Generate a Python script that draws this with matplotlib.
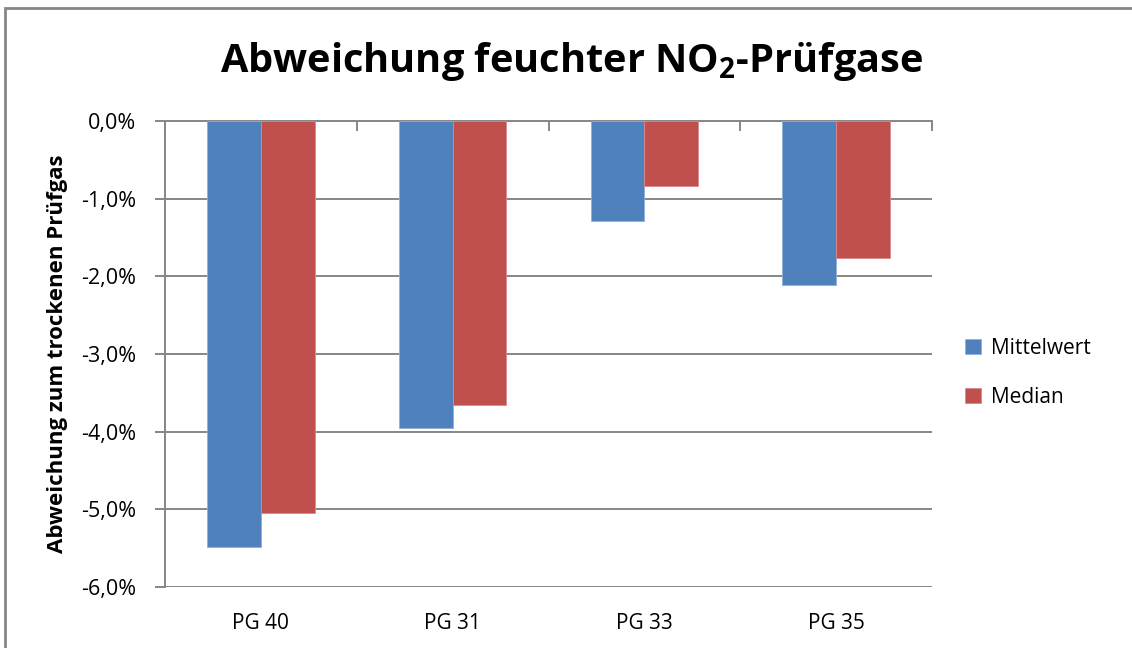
import matplotlib
matplotlib.use("Agg")
import matplotlib.pyplot as plt
import numpy as np
from matplotlib.ticker import FuncFormatter, FixedLocator
from matplotlib.patches import Rectangle

categories = ["PG 40", "PG 31", "PG 33", "PG 35"]
mittelwert = [-5.48, -3.95, -1.29, -2.115]
median = [-5.05, -3.66, -0.84, -1.77]
series_names = ["Mittelwert", "Median"]
yticks = [0, -1, -2, -3, -4, -5, -6]

plt.rcParams['font.family'] = ['Open Sans', 'DejaVu Sans']

fig = plt.figure(figsize=(11.32, 6.48), dpi=100)
ax = fig.add_axes([165/1132, 1-587/648, (932-165)/1132, (587-121)/648])

grey = "#868686"
x = np.arange(len(categories))
w = 0.28
ax.bar(x - w/2, mittelwert, w, color="#4F81BD", edgecolor="#8FB0DB", linewidth=0.6, label=series_names[0], zorder=3)
ax.bar(x + w/2, median, w, color="#C0504D", edgecolor="#D98A88", linewidth=0.6, label=series_names[1], zorder=3)

ax.set_xlim(-0.5, len(categories) - 0.5)
ax.set_ylim(-6, 0)
ax.set_yticks(yticks)
ax.yaxis.set_major_formatter(FuncFormatter(lambda v, p: f"{v:.1f}%".replace(".", ",")))
ax.grid(axis="y", color=grey, linewidth=1.4, zorder=0)
ax.set_axisbelow(True)

for s in ["right", "bottom"]:
    ax.spines[s].set_visible(False)
for s in ["left", "top"]:
    ax.spines[s].set_color(grey)
    ax.spines[s].set_linewidth(1.4)

ax.set_xticks(x)
ax.set_xticklabels(categories)
ax.xaxis.set_minor_locator(FixedLocator(np.arange(-0.5, len(categories), 1.0)))
ax.tick_params(axis="x", which="major", length=0, pad=19, labelsize=15)
ax.tick_params(axis="x", which="minor", bottom=False, top=True, direction="in", length=7, width=1.4, color=grey)
ax.tick_params(axis="y", length=7, width=1.4, color=grey, pad=14, labelsize=15.5)

ax.set_ylabel("Abweichung zum trockenen Prüfgas", fontsize=16, fontweight="bold", va="center")
ax.yaxis.set_label_coords((58 - 165) / 767, 0.5)

fig.text(0.505, 0.905, "Abweichung feuchter NO$_\\mathregular{2}$-Prüfgase", ha="center", va="center",
         fontsize=28.6, fontweight="bold")

ax.legend(loc="center left", bbox_to_anchor=(965/1132, 1 - 373/648), bbox_transform=fig.transFigure,
          frameon=False, fontsize=15, handlelength=0.75, handleheight=0.75, labelspacing=1.35,
          handletextpad=0.5, borderpad=0, borderaxespad=0)

fig.patches.append(Rectangle((5/1132, -0.1), 1.2, 1 - 8/648 + 0.1, transform=fig.transFigure,
                             fill=False, edgecolor=grey, linewidth=2))

fig.savefig("out.png", dpi=100)
